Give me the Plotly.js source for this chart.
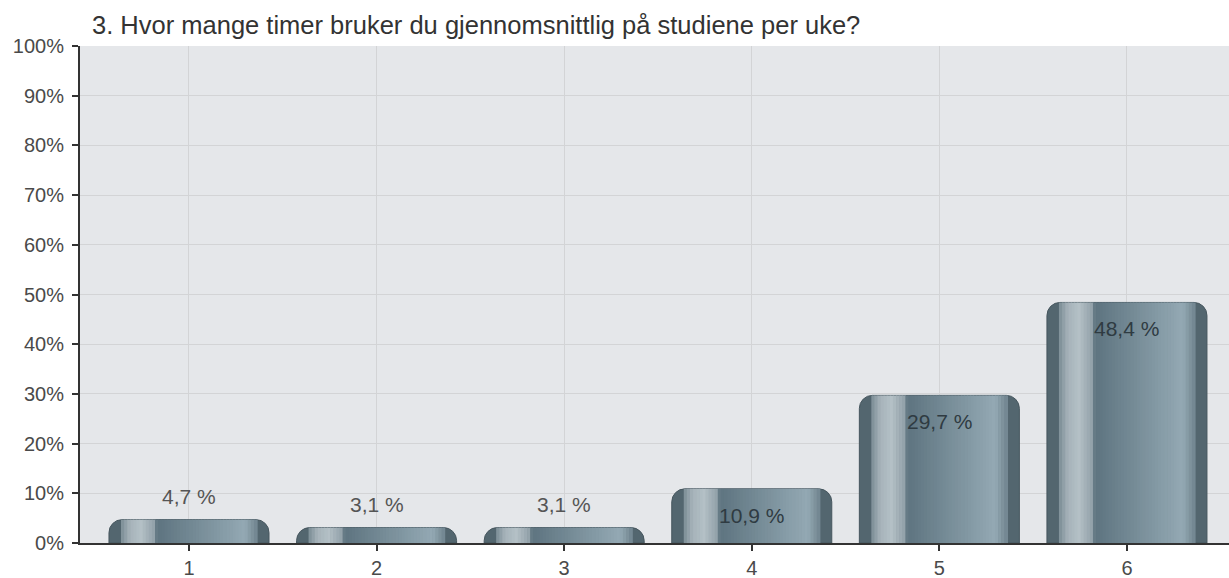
<!DOCTYPE html>
<html>
<head>
<meta charset="utf-8">
<script src="https://cdn.plot.ly/plotly-3.0.1.min.js"></script>
<style>
  html, body { margin: 0; padding: 0; background: #ffffff; }
  #chart { width: 1229px; height: 578px; }
</style>
</head>
<body>
<div id="chart"></div>
<script>
// ---- data ----
const categories = [1, 2, 3, 4, 5, 6];
const tickLabels = ['1', '2', '3', '4', '5', '6'];
const percentages = [4.7, 3.1, 3.1, 10.9, 29.7, 48.4];
const labelInside = [false, false, false, true, true, true];
const yTickValues = [0, 10, 20, 30, 40, 50, 60, 70, 80, 90, 100];
const yTickLabels = ['0%', '10%', '20%', '30%', '40%', '50%', '60%', '70%', '80%', '90%', '100%'];
const titleText = '3. Hvor mange timer bruker du gjennomsnittlig på studiene per uke?';

// ---- styling ----
const FONT = '"Liberation Sans", Arial, Helvetica, sans-serif';
const BAR_W = 0.853;

function hex2rgb(h) {
  h = h.replace('#', '');
  return [parseInt(h.slice(0, 2), 16), parseInt(h.slice(2, 4), 16), parseInt(h.slice(4, 6), 16)];
}
function mix(a, b, t) {
  const A = hex2rgb(a), B = hex2rgb(b);
  return 'rgb(' + A.map((v, i) => Math.round(v + (B[i] - v) * t)).join(',') + ')';
}
// horizontal colour profile across a bar (fraction of width -> colour)
const stops = [
  [0.00, '#4b5c65'], [0.05, '#667a84'], [0.13, '#a6b3ba'], [0.20, '#b4c0c6'],
  [0.28, '#93a2aa'], [0.30, '#5e7480'], [0.55, '#768c97'], [0.85, '#94a9b4'],
  [0.93, '#6d818b'], [1.00, '#48585f']
];
function colorAt(f) {
  for (let i = 0; i < stops.length - 1; i++) {
    const [a0, c0] = stops[i], [a1, c1] = stops[i + 1];
    if (f >= a0 && f <= a1) return mix(c0, c1, (f - a0) / (a1 - a0));
  }
  return stops[stops.length - 1][1];
}

const traces = [];
// base bar with rounded corners
traces.push({
  type: 'bar', x: categories, y: percentages, width: BAR_W,
  marker: { color: '#53666f', line: { color: '#46565e', width: 1 }, cornerradius: 13 },
  hoverinfo: 'skip', showlegend: false
});
// shading strips inside the bar
const f0 = 0.075, f1 = 0.925, nStrips = 44;
const dw = (f1 - f0) / nStrips;
for (let i = 0; i < nStrips; i++) {
  const fa = f0 + i * dw;
  traces.push({
    type: 'bar', x: categories, y: percentages,
    width: (dw + 0.004) * BAR_W,
    offset: -BAR_W / 2 + fa * BAR_W,
    marker: { color: colorAt(fa + dw / 2), line: { width: 0 } },
    hoverinfo: 'skip', showlegend: false
  });
}

const annotations = percentages.map((v, i) => ({
  x: categories[i], y: v, xref: 'x', yref: 'y',
  text: v.toFixed(1).replace('.', ',') + ' %',
  showarrow: false,
  yanchor: labelInside[i] ? 'top' : 'bottom',
  yshift: labelInside[i] ? -13 : 10,
  font: { family: FONT, size: 21, color: labelInside[i] ? '#2f3b42' : '#555555' }
}));

const layout = {
  width: 1229, height: 578,
  margin: { l: 80, r: 0, t: 46, b: 35 },
  paper_bgcolor: '#ffffff',
  plot_bgcolor: '#e5e7ea',
  barmode: 'overlay',
  showlegend: false,
  title: {
    text: titleText,
    x: 92 / 1229, xanchor: 'left', xref: 'container',
    y: 1 - 25 / 578, yanchor: 'middle', yref: 'container',
    font: { family: FONT, size: 25.5, color: '#333333' }
  },
  xaxis: {
    type: 'linear',
    range: [0.419, 6.544],
    tickmode: 'array', tickvals: categories, ticktext: tickLabels,
    ticks: 'outside', ticklen: 6, tickcolor: '#333333', tickwidth: 2,
    showline: true, linecolor: '#333333', linewidth: 2,
    showgrid: true, gridcolor: '#d3d4d6', gridwidth: 1,
    zeroline: false,
    tickfont: { family: FONT, size: 20, color: '#4a4a4a' }
  },
  yaxis: {
    range: [0, 100],
    tickmode: 'array', tickvals: yTickValues, ticktext: yTickLabels,
    ticks: 'outside', ticklen: 6, tickcolor: '#333333', tickwidth: 2,
    ticklabelstandoff: 4,
    showline: true, linecolor: '#333333', linewidth: 2,
    showgrid: true, gridcolor: '#d3d4d6', gridwidth: 1,
    zeroline: false,
    tickfont: { family: FONT, size: 20, color: '#4a4a4a' }
  },
  annotations: annotations
};

Plotly.newPlot('chart', traces, layout, { displayModeBar: false, staticPlot: true });
</script>
</body>
</html>
